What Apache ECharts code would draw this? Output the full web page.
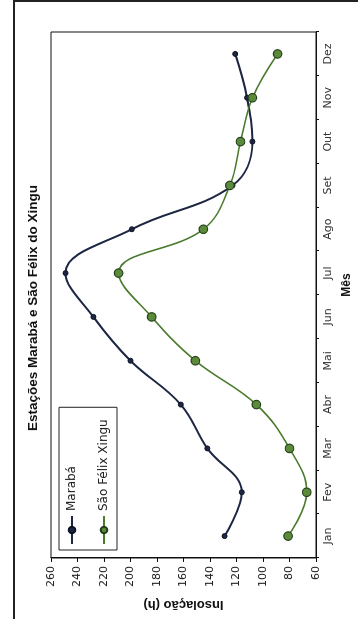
<!DOCTYPE html>
<html>
<head>
<meta charset="utf-8">
<script src="https://cdn.jsdelivr.net/npm/echarts@6/dist/echarts.min.js"></script>
<style>
html,body{margin:0;padding:0;background:#fff;}
#wrap{position:absolute;left:0;top:0;width:358px;height:619px;overflow:hidden;background:#fff;}
#c{position:absolute;left:0;top:0;width:619px;height:358px;transform-origin:0 0;transform:translate(0,619px) rotate(-90deg);}
</style>
</head>
<body>
<div id="wrap"><div id="c"></div></div>
<script>
var months = ['Jan','Fev','Mar','Abr','Mai','Jun','Jul','Ago','Set','Out','Nov','Dez'];
var maraba = [129, 116, 142, 162, 200, 228, 249, 199, 123, 108, 112, 121];
var saoFelix = [81, 67, 80, 105, 151, 184, 209, 145, 125, 117, 108, 89];
var seriesNames = ['Marabá', 'São Félix Xingu'];
var titleText = 'Estações Marabá e São Félix do Xingu';
var xName = 'Mês';
var yName = 'Insolação (h)';

var chart = echarts.init(document.getElementById('c'), null, {renderer: 'canvas'});
chart.setOption({
  backgroundColor: '#fff',
  animation: false,
  textStyle: {fontFamily: 'Liberation Sans, Arial, sans-serif', color: '#000'},
  title: {
    text: titleText, left: 188, top: 26, padding: 0,
    textStyle: {fontSize: 13.5, fontWeight: 'bold', color: '#111', fontFamily: 'Liberation Sans'}
  },
  legend: {
    orient: 'vertical', left: 69, top: 59,
    padding: [7, 12, 7, 5], itemGap: 20, itemWidth: 28, itemHeight: 8,
    borderColor: '#222', borderWidth: 1, backgroundColor: '#fff',
    textStyle: {fontSize: 12, color: '#222', fontFamily: 'DejaVu Sans'},
    data: seriesNames
  },
  grid: {left: 58, right: 32, top: 51, bottom: 39, show: true, borderColor: '#111', borderWidth: 1, backgroundColor: '#fff'},
  xAxis: {
    type: 'category', data: months, boundaryGap: true,
    name: xName, nameLocation: 'middle', nameGap: 25,
    nameTextStyle: {fontSize: 12, fontWeight: 'bold', color: '#111', padding: [0, 0, 0, 20]},
    axisLine: {lineStyle: {color: '#111', width: 1}},
    axisTick: {show: true, length: 3, alignWithLabel: false, lineStyle: {color: '#111'}},
    axisLabel: {fontSize: 11, color: '#333', margin: 7, fontFamily: 'DejaVu Sans'},
    splitLine: {show: false}
  },
  yAxis: {
    type: 'value', min: 60, max: 260, interval: 20,
    name: yName, nameLocation: 'middle', nameGap: 40, nameRotate: 90,
    nameTextStyle: {fontSize: 13, fontWeight: 'bold', color: '#111'},
    axisLine: {show: true, lineStyle: {color: '#111', width: 1}},
    axisTick: {show: true, length: 4, lineStyle: {color: '#111'}},
    axisLabel: {fontSize: 11, color: '#222', margin: 8, fontFamily: 'DejaVu Sans'},
    splitLine: {show: false}
  },
  series: [
    {
      name: seriesNames[0], type: 'line', data: maraba, smooth: 0.4,
      symbol: 'circle', symbolSize: 5,
      lineStyle: {color: '#1d2743', width: 2},
      itemStyle: {color: '#1d2743', borderColor: '#0d1426', borderWidth: 1}
    },
    {
      name: seriesNames[1], type: 'line', data: saoFelix, smooth: 0.4,
      symbol: 'circle', symbolSize: 8.5,
      lineStyle: {color: '#4a7a2c', width: 1.6},
      itemStyle: {color: '#5a8a3a', borderColor: '#24401a', borderWidth: 1.2}
    }
  ],
  graphic: [
    {type: 'polyline', silent: true, shape: {points: [[0, 14], [618, 14], [618, 358]]},
     style: {stroke: '#222', lineWidth: 2, fill: null}}
  ]
});
</script>
</body>
</html>
